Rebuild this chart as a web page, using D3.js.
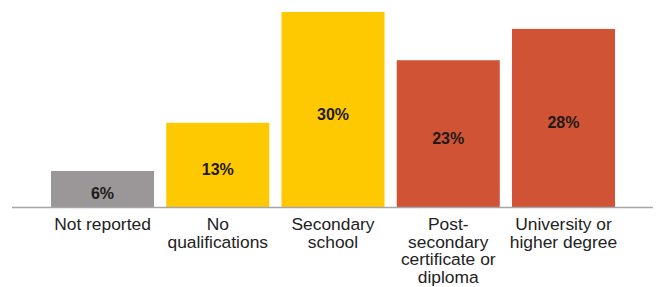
<!DOCTYPE html>
<html><head><meta charset="utf-8">
<script src="https://cdn.jsdelivr.net/npm/d3@7"></script>
<style>html,body{margin:0;padding:0;background:#fff;}</style>
</head><body>
<svg id="c" width="659" height="287"></svg>
<script>
const categories = ["Not reported", "No qualifications", "Secondary school", "Post-secondary certificate or diploma", "University or higher degree"];
const tickLabels = [["Not reported"], ["No", "qualifications"], ["Secondary", "school"], ["Post-", "secondary", "certificate or", "diploma"], ["University or", "higher degree"]];
const values = [5.6, 13.0, 30.0, 22.6, 27.4];
const valueLabels = ["6%", "13%", "30%", "23%", "28%"];
const colors = ["#9b9697", "#fec900", "#fec900", "#cf5334", "#cf5334"];

const svg = d3.select("#c");
const baseline = 207.5;
const x = d3.scaleBand().domain(categories).range([51, 615]).paddingInner(0.106).paddingOuter(0);
const y = d3.scaleLinear().domain([0, 30]).range([baseline, 12]);

svg.selectAll("rect.bar").data(values).join("rect")
  .attr("class", "bar")
  .attr("x", (d, i) => x(categories[i]))
  .attr("width", x.bandwidth())
  .attr("y", d => y(d))
  .attr("height", d => baseline - y(d))
  .attr("fill", (d, i) => colors[i]);

svg.append("line").attr("x1", 12).attr("x2", 653).attr("y1", baseline).attr("y2", baseline)
  .attr("stroke", "#a6a6a6").attr("stroke-width", 1.3);

svg.selectAll("text.val").data(values).join("text")
  .attr("class", "val")
  .attr("x", (d, i) => x(categories[i]) + x.bandwidth() / 2)
  .attr("y", d => (y(d) + baseline) / 2 + 10)
  .attr("text-anchor", "middle")
  .attr("font-family", "Liberation Sans, Arial, sans-serif")
  .attr("font-weight", "bold")
  .attr("font-size", 16)
  .attr("fill", "#1f1a17")
  .text((d, i) => valueLabels[i]);

const lab = svg.selectAll("text.cat").data(tickLabels).join("text")
  .attr("class", "cat")
  .attr("text-anchor", "middle")
  .attr("font-family", "Liberation Sans, Arial, sans-serif")
  .attr("font-size", 17.4)
  .attr("fill", "#222");
lab.each(function(lines, i) {
  const t = d3.select(this);
  lines.forEach((ln, j) => {
    t.append("tspan").attr("x", x(categories[i]) + x.bandwidth() / 2)
      .attr("y", 230 + j * 17.5).text(ln);
  });
});
</script>
</body></html>
